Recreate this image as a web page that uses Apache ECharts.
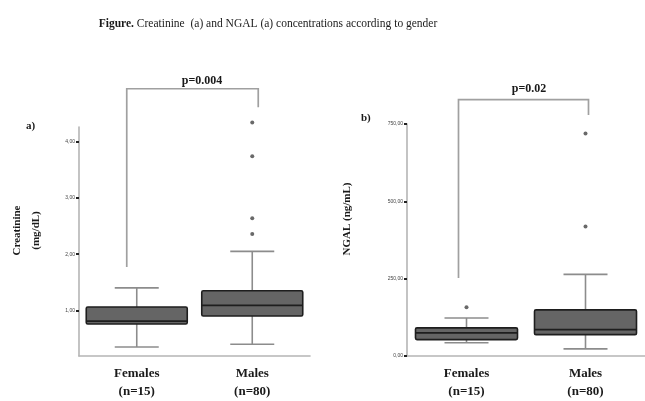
<!DOCTYPE html>
<html><head><meta charset="utf-8">
<script src="https://cdn.jsdelivr.net/npm/echarts@6/dist/echarts.min.js"></script>
<style>html,body{margin:0;padding:0;background:#fff}#c{width:645px;height:401px}</style>
</head><body><div id="c"></div>
<script>
// ---- data ----
const categories = ['Females\n(n=15)', 'Males\n(n=80)'];
// [min, Q1, median, Q3, max]
const creatinineBox = [[0.35, 0.76, 0.81, 1.06, 1.40], [0.40, 0.90, 1.09, 1.35, 2.05]];
const creatinineOutliers = [[1, 4.34], [1, 3.74], [1, 2.64], [1, 2.36]];
const ngalBox = [[43, 53, 75, 91, 123], [23, 69, 85, 149, 264]];
const ngalOutliers = [[0, 158], [1, 719], [1, 419]];
const creatinineTicks = [1, 2, 3, 4];
const ngalTicks = [0, 250, 500, 750];
// bracket: [left leg bottom, right leg bottom, top]
const creatinineBracket = [1.77, 4.61, 4.94];
const ngalBracket = [252, 779, 829];
const pCreatinine = 'p=0.004';
const pNgal = 'p=0.02';

const serif = '"Liberation Serif", "DejaVu Serif", serif';
const fmt = v => v.toFixed(2).replace('.', ',');

function boxRender(boxW, capW) {
  return function (params, api) {
    const c = api.value(0);
    const mn = api.coord([c, api.value(1)]);
    const q1 = api.coord([c, api.value(2)]);
    const md = api.coord([c, api.value(3)]);
    const q3 = api.coord([c, api.value(4)]);
    const mx = api.coord([c, api.value(5)]);
    const x = mn[0];
    const wl = { stroke: '#8c8c8c', lineWidth: 1.6 };
    return {
      type: 'group',
      children: [
        { type: 'line', shape: { x1: x, y1: q3[1], x2: x, y2: mx[1] }, style: wl },
        { type: 'line', shape: { x1: x, y1: q1[1], x2: x, y2: mn[1] }, style: wl },
        { type: 'line', shape: { x1: x - capW / 2, y1: mx[1], x2: x + capW / 2, y2: mx[1] }, style: wl },
        { type: 'line', shape: { x1: x - capW / 2, y1: mn[1], x2: x + capW / 2, y2: mn[1] }, style: wl },
        { type: 'rect', shape: { x: x - boxW / 2, y: q3[1], width: boxW, height: q1[1] - q3[1], r: 1.5 },
          style: { fill: '#656565', stroke: '#1e1e1e', lineWidth: 1.6 } },
        { type: 'line', shape: { x1: x - boxW / 2, y1: md[1], x2: x + boxW / 2, y2: md[1] },
          style: { stroke: '#1e1e1e', lineWidth: 1.8 } }
      ]
    };
  };
}

function bracketRender(offL, offR) {
  return function (params, api) {
    const lb = api.coord([0, api.value(0)]);
    const rb = api.coord([1, api.value(1)]);
    const tl = api.coord([0, api.value(2)]);
    const xl = lb[0] + offL, xr = rb[0] + offR;
    return {
      type: 'polyline',
      shape: { points: [[xl, lb[1]], [xl, tl[1]], [xr, tl[1]], [xr, rb[1]]] },
      style: { stroke: '#a0a0a0', lineWidth: 1.7, fill: null }
    };
  };
}

const xAxisBase = {
  type: 'category', data: categories,
  axisLine: { lineStyle: { color: '#b5b5b5', width: 1.6 } },
  axisTick: { alignWithLabel: true, length: 3, lineStyle: { color: '#222', width: 2.5 } },
  axisLabel: { fontFamily: serif, fontWeight: 'bold', fontSize: 13, color: '#1a1a1a', lineHeight: 18, margin: 9 }
};
const yAxisBase = {
  type: 'value', splitLine: { show: false },
  axisLine: { show: true, lineStyle: { color: '#b5b5b5', width: 1.6 } },
  axisTick: { show: true, length: 3, lineStyle: { color: '#222', width: 2 } },
  axisLabel: { fontSize: 5, color: '#444', margin: 4, formatter: fmt },
  nameLocation: 'middle', nameRotate: 90,
  nameTextStyle: { fontFamily: serif, fontWeight: 'bold', fontSize: 11, color: '#1a1a1a', lineHeight: 19 }
};

const chart = echarts.init(document.getElementById('c'), null, { renderer: 'canvas' });
chart.setOption({
  animation: false,
  backgroundColor: '#fff',
  title: [
    { text: '{b|Figure.} Creatinine  (a) and NGAL (a) concentrations according to gender', left: 263, top: 13, textAlign: 'center',
      textStyle: { fontFamily: serif, fontWeight: 'normal', fontSize: 11.5, color: '#1a1a1a',
        rich: { b: { fontFamily: serif, fontWeight: 'bold', fontSize: 11.5, color: '#1a1a1a' } } } },
    { text: 'a)', left: 21, top: 116, textStyle: { fontFamily: serif, fontWeight: 'bold', fontSize: 11, color: '#1a1a1a' } },
    { text: 'b)', left: 356, top: 108, textStyle: { fontFamily: serif, fontWeight: 'bold', fontSize: 11, color: '#1a1a1a' } },
    { text: pCreatinine, left: 197, top: 70, textAlign: 'center', textStyle: { fontFamily: serif, fontWeight: 'bold', fontSize: 12, color: '#1a1a1a' } },
    { text: pNgal, left: 524, top: 78, textAlign: 'center', textStyle: { fontFamily: serif, fontWeight: 'bold', fontSize: 12, color: '#1a1a1a' } }
  ],
  grid: [
    { left: 79, top: 127, width: 231, height: 234 },
    { left: 407, top: 124, width: 238, height: 235 }
  ],
  xAxis: [
    Object.assign({}, xAxisBase, { gridIndex: 0 }),
    Object.assign({}, xAxisBase, { gridIndex: 1 })
  ],
  yAxis: [
    Object.assign({}, yAxisBase, {
      gridIndex: 0, min: 0.19, max: 4.26, name: 'Creatinine\n(mg/dL)', nameGap: 33,
      axisTick: Object.assign({}, yAxisBase.axisTick, { customValues: creatinineTicks }),
      axisLabel: Object.assign({}, yAxisBase.axisLabel, { customValues: creatinineTicks }),
      nameTextStyle: Object.assign({}, yAxisBase.nameTextStyle, { padding: [0, 0, 0, 22] })
    }),
    Object.assign({}, yAxisBase, {
      gridIndex: 1, min: 0, max: 750, interval: 250, name: 'NGAL (ng/mL)', nameGap: 50,
      nameTextStyle: Object.assign({}, yAxisBase.nameTextStyle, { padding: [0, 0, 0, 42] })
    })
  ],
  series: [
    { type: 'custom', xAxisIndex: 0, yAxisIndex: 0, renderItem: boxRender(101, 44),
      data: creatinineBox.map((b, i) => [i].concat(b)), encode: { x: 0, y: [1, 2, 3, 4, 5] }, z: 3 },
    { type: 'scatter', xAxisIndex: 0, yAxisIndex: 0, data: creatinineOutliers, symbolSize: 4, clip: false,
      itemStyle: { color: '#444' }, z: 4 },
    { type: 'custom', xAxisIndex: 0, yAxisIndex: 0, renderItem: bracketRender(-10, 6),
      data: [creatinineBracket], encode: { y: [0, 1, 2] }, clip: false, z: 2 },
    { type: 'custom', xAxisIndex: 1, yAxisIndex: 1, renderItem: boxRender(102, 44),
      data: ngalBox.map((b, i) => [i].concat(b)), encode: { x: 0, y: [1, 2, 3, 4, 5] }, z: 3 },
    { type: 'scatter', xAxisIndex: 1, yAxisIndex: 1, data: ngalOutliers, symbolSize: 4, clip: false,
      itemStyle: { color: '#444' }, z: 4 },
    { type: 'custom', xAxisIndex: 1, yAxisIndex: 1, renderItem: bracketRender(-8, 3),
      data: [ngalBracket], encode: { y: [0, 1, 2] }, clip: false, z: 2 }
  ]
});
</script>
</body></html>
